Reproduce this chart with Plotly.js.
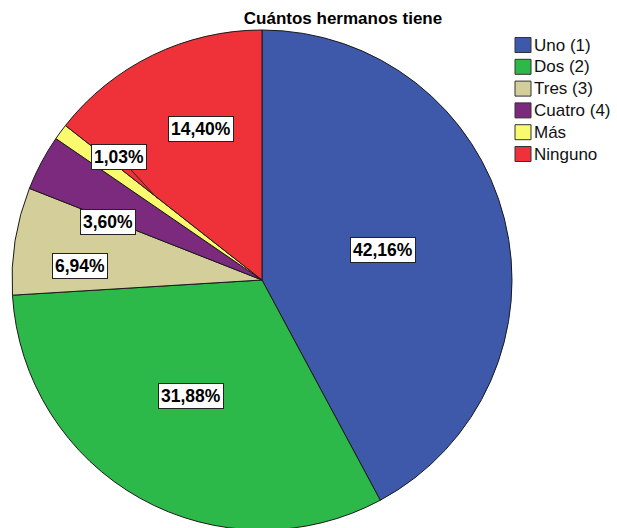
<!DOCTYPE html>
<html>
<head>
<meta charset="utf-8">
<script src="https://cdn.plot.ly/plotly-3.0.1.min.js"></script>
<style>
  html, body { margin: 0; padding: 0; overflow: hidden; background: #fff; }
  #chart { width: 617px; height: 532px; }
</style>
</head>
<body>
<div id="chart"></div>
<script>
// ---- data ----
const categories = ["Uno (1)", "Dos (2)", "Tres (3)", "Cuatro (4)", "Más", "Ninguno"];
const percentages = [42.16, 31.88, 6.94, 3.60, 1.03, 14.40];
const sliceColors = ["#3E58AA", "#2DB84A", "#D4CE9A", "#7B2A7E", "#FAFA6E", "#EF3239"];

// ---- layout constants ----
const W = 617, H = 532;
const FONT = 'Liberation Sans, Arial, sans-serif';
const pieLeft = 12, pieTop = 30, pieSize = 500;
const cx = pieLeft + pieSize / 2, cy = pieTop + pieSize / 2, R = pieSize / 2;
// label placement (angle shift in degrees, fraction of radius)
const labelShift = [0.3, 2.3, -4.7, -7.4, 4.4, 3.8];
const labelRad = [0.50, 0.545, 0.73, 0.66, 0.755, 0.65];
const leaderIndex = 4, leaderShift = 1.6, leaderRad = 0.53;
// legend placement (pixels)
const legSwatchX = 515, legSwatchSize = 16, legTextX = 533, legTop = 45, legStep = 21.8;

const total = percentages.reduce((a, b) => a + b, 0);
const fmt = v => v.toFixed(2).replace('.', ',') + '%';
const px2x = p => p / W;
const px2y = p => 1 - p / H;

function polar(angleDeg, frac) {
  const a = angleDeg * Math.PI / 180;
  return [cx + frac * R * Math.sin(a), cy - frac * R * Math.cos(a)];
}

const annotations = [];
const shapes = [];
let cum = 0;
percentages.forEach((v, i) => {
  const mid = (cum + v / 2) / total * 360;
  cum += v;
  const [px, py] = polar(mid + labelShift[i], labelRad[i]);
  const base = {
    text: '<b>' + fmt(v) + '</b>',
    font: { family: FONT, size: 17.5, color: '#000' },
    bgcolor: '#fff', bordercolor: '#222', borderwidth: 1, borderpad: 2,
    xref: 'paper', yref: 'paper', xanchor: 'center', yanchor: 'middle'
  };
  if (i === leaderIndex) {
    const [tx, ty] = polar(mid + leaderShift, leaderRad);
    annotations.push(Object.assign(base, {
      x: px2x(tx), y: px2y(ty),
      showarrow: true, arrowhead: 0, arrowwidth: 1, arrowcolor: '#222',
      ax: px - tx, ay: py - ty
    }));
  } else {
    annotations.push(Object.assign(base, {
      x: px2x(px), y: px2y(py), showarrow: false
    }));
  }
});

// legend drawn from the category and colour arrays
categories.forEach((c, i) => {
  const yc = legTop + i * legStep;
  shapes.push({
    type: 'rect', xref: 'paper', yref: 'paper',
    x0: px2x(legSwatchX), x1: px2x(legSwatchX + legSwatchSize),
    y0: px2y(yc - legSwatchSize / 2 + 0.5), y1: px2y(yc + legSwatchSize / 2 - 0.5),
    fillcolor: sliceColors[i], line: { color: '#333', width: 1 }
  });
  annotations.push({
    text: c, xref: 'paper', yref: 'paper',
    x: px2x(legTextX), y: px2y(yc), xanchor: 'left', yanchor: 'middle',
    showarrow: false, borderpad: 0,
    font: { family: FONT, size: 17, color: '#111' }
  });
});

const trace = {
  type: 'pie',
  labels: categories,
  values: percentages,
  sort: false,
  direction: 'clockwise',
  rotation: 0,
  textinfo: 'none',
  hoverinfo: 'none',
  showlegend: false,
  marker: { colors: sliceColors, line: { color: '#1a1a1a', width: 1 } },
  domain: { x: [px2x(pieLeft), px2x(pieLeft + pieSize)], y: [px2y(pieTop + pieSize), px2y(pieTop)] }
};

const layout = {
  width: W, height: H,
  margin: { l: 0, r: 0, t: 0, b: 0 },
  paper_bgcolor: '#fff',
  font: { family: FONT, color: '#000' },
  title: {
    text: '<b>Cuántos hermanos tiene</b>',
    font: { family: FONT, size: 17, color: '#000' },
    x: px2x(343), xanchor: 'center', xref: 'paper',
    y: px2y(18), yanchor: 'middle', yref: 'container'
  },
  showlegend: false,
  shapes: shapes,
  annotations: annotations
};

Plotly.newPlot('chart', [trace], layout, { displayModeBar: false, staticPlot: true });
</script>
</body>
</html>
